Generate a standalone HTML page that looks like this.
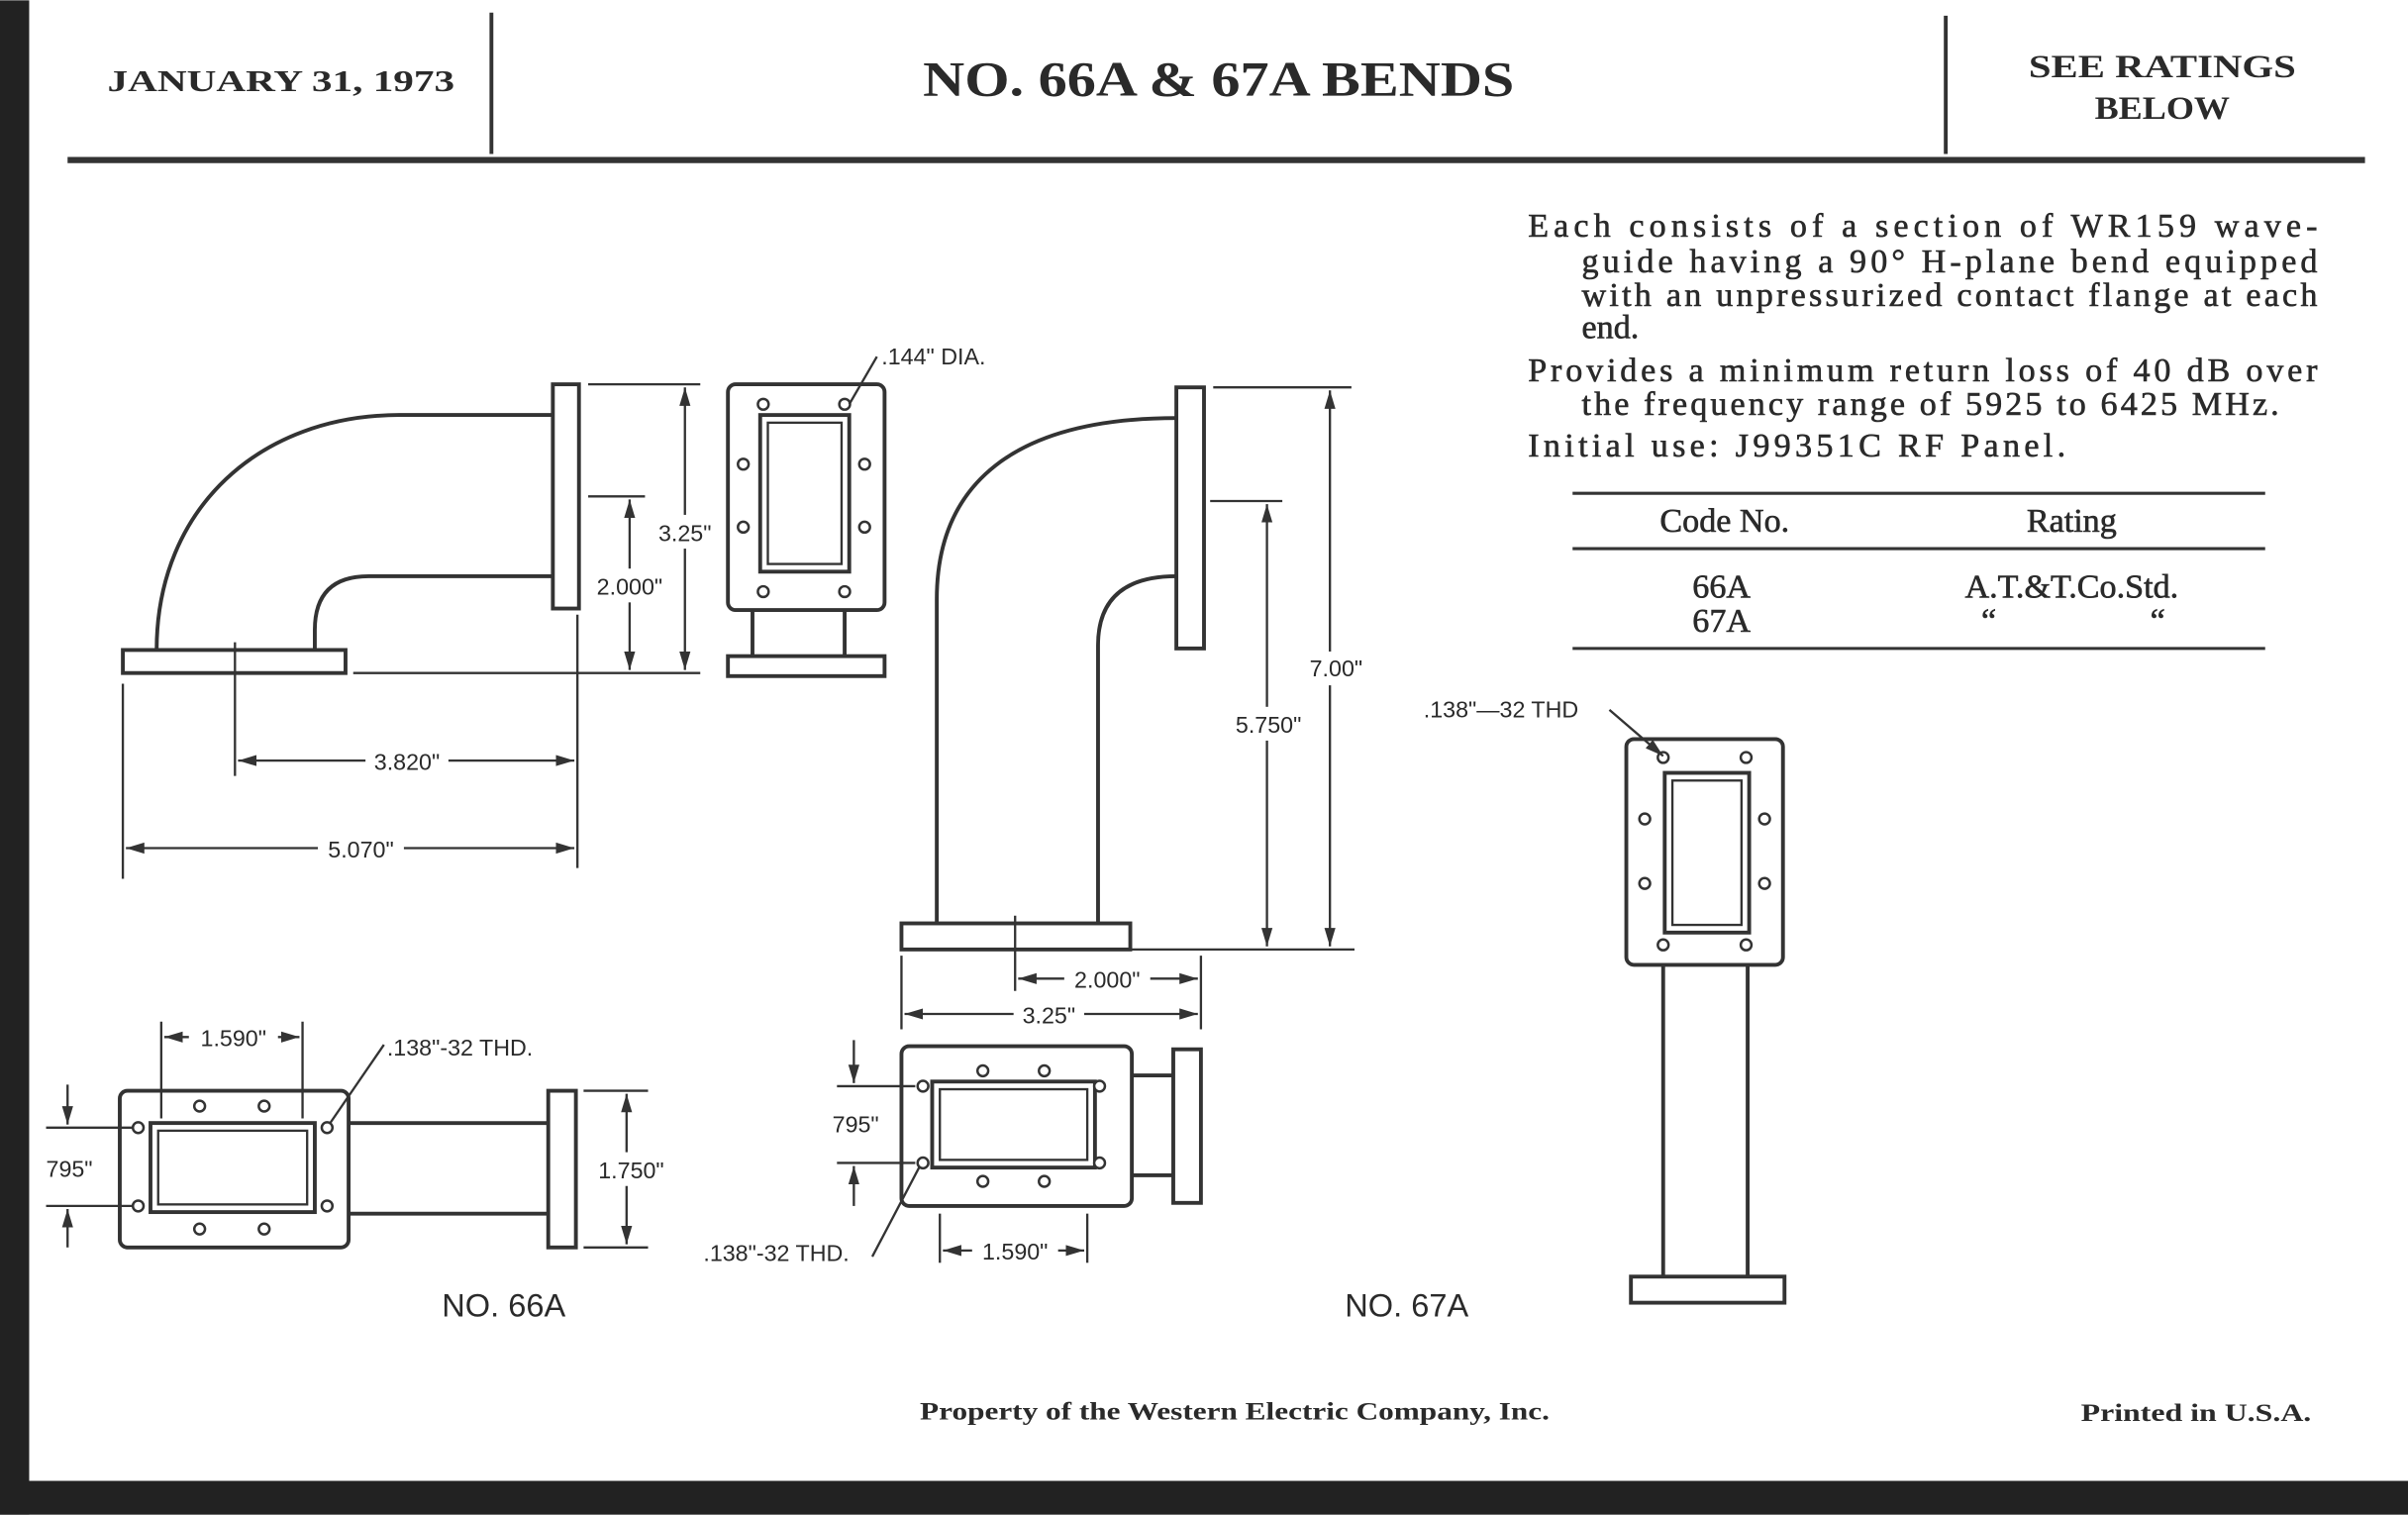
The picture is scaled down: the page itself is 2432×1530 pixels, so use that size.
<!DOCTYPE html>
<html><head><meta charset="utf-8"><style>
html,body{margin:0;padding:0;background:#fff}
svg{display:block}
.s{font-family:"Liberation Serif",serif;fill:#2a2a2a}
.a{font-family:"Liberation Sans",sans-serif;fill:#2a2a2a}
</style></head><body>
<svg width="2432" height="1530" viewBox="0 0 1568 986" xmlns="http://www.w3.org/2000/svg">
<defs>
<marker id="ar" viewBox="0 0 10 10" refX="10" refY="5" markerWidth="8" markerHeight="8" orient="auto-start-reverse"><path d="M0,2 L10,5 L0,8 z" fill="#333"/></marker>
</defs>
<rect width="1568" height="986" fill="#fff"/>
<rect x="0" y="0" width="19" height="986" fill="#222"/>
<rect x="0" y="964" width="1568" height="22" fill="#222"/>
<g stroke="#333" fill="none">
<line x1="44" y1="104" x2="1540" y2="104" stroke-width="4"/>
<line x1="320" y1="8" x2="320" y2="100" stroke-width="2.5"/>
<line x1="1267" y1="10" x2="1267" y2="100" stroke-width="2.5"/>
</g>
<text class="s" x="70" y="59" font-size="20" font-weight="bold" textLength="226" lengthAdjust="spacingAndGlyphs">JANUARY 31, 1973</text>
<text class="s" x="601" y="62" font-size="32" font-weight="bold" textLength="385" lengthAdjust="spacingAndGlyphs">NO. 66A &amp; 67A BENDS</text>
<text class="s" x="1321" y="50" font-size="21" font-weight="bold" textLength="174" lengthAdjust="spacingAndGlyphs">SEE RATINGS</text>
<text class="s" x="1408" y="77" font-size="21" font-weight="bold" text-anchor="middle" textLength="88" lengthAdjust="spacingAndGlyphs">BELOW</text>

<g class="s" font-size="22" stroke="#2a2a2a" stroke-width="0.4">
<text x="995" y="154" textLength="514" lengthAdjust="spacing">Each consists of a section of WR159 wave-</text>
<text x="1030" y="177" textLength="479" lengthAdjust="spacing">guide having a 90° H-plane bend equipped</text>
<text x="1030" y="199" textLength="479" lengthAdjust="spacing">with an unpressurized contact flange at each</text>
<text x="1030" y="220">end.</text>
<text x="995" y="248" textLength="514" lengthAdjust="spacing">Provides a minimum return loss of 40 dB over</text>
<text x="1030" y="270" textLength="454" lengthAdjust="spacing">the frequency range of 5925 to 6425 MHz.</text>
<text x="995" y="297" textLength="350" lengthAdjust="spacing">Initial use: J99351C RF Panel.</text>
<text x="1123" y="346" text-anchor="middle">Code No.</text>
<text x="1349" y="346" text-anchor="middle">Rating</text>
<text x="1121" y="389" text-anchor="middle">66A</text>
<text x="1121" y="411" text-anchor="middle">67A</text>
<text x="1349" y="389" text-anchor="middle">A.T.&amp;T.Co.Std.</text>
<text x="1295" y="411" text-anchor="middle">“</text>
<text x="1405" y="411" text-anchor="middle">“</text>
</g>
<g stroke="#333" stroke-width="2">
<line x1="1024" y1="321" x2="1475" y2="321"/>
<line x1="1024" y1="357" x2="1475" y2="357"/>
<line x1="1024" y1="422" x2="1475" y2="422"/>
</g>

<g stroke="#333" stroke-width="2.5" fill="none">
<rect x="80" y="423" width="145" height="15"/>
<rect x="360" y="250" width="17" height="146"/>
<path d="M102,423 C102,330 170,270 260,270 L360,270"/>
<path d="M205,423 L205,410 Q205,375 240,375 L360,375"/>
<rect x="474" y="250" width="102" height="147" rx="5"/>
<rect x="495" y="270" width="58" height="102"/>
<rect x="500" y="275" width="48" height="92" stroke-width="1.5"/>
<line x1="490" y1="397" x2="490" y2="427"/><line x1="550" y1="397" x2="550" y2="427"/>
<rect x="474" y="427" width="102" height="13"/>
<rect x="587" y="601" width="149" height="17"/>
<rect x="766" y="252" width="18" height="170"/>
<path d="M610,601 L610,390 C610,315 660,272 766,272"/>
<path d="M715,601 L715,420 Q715,375 766,375"/>
<rect x="587" y="681" width="150" height="104" rx="5"/>
<rect x="607" y="704" width="106" height="56"/>
<rect x="612" y="709" width="96" height="46" stroke-width="1.5"/>
<rect x="764" y="683" width="18" height="100"/>
<line x1="737" y1="700" x2="764" y2="700"/><line x1="737" y1="765" x2="764" y2="765"/>
<rect x="78" y="710" width="149" height="102" rx="5"/>
<rect x="98" y="731" width="107" height="58"/>
<rect x="103" y="736" width="97" height="48" stroke-width="1.5"/>
<line x1="227" y1="731" x2="357" y2="731"/><line x1="227" y1="790" x2="357" y2="790"/>
<rect x="357" y="710" width="18" height="102"/>
<rect x="1059" y="481" width="102" height="147" rx="5"/>
<rect x="1084" y="503" width="55" height="104"/>
<rect x="1089" y="508" width="45" height="94" stroke-width="1.5"/>
<line x1="1083" y1="628" x2="1083" y2="831"/><line x1="1138" y1="628" x2="1138" y2="831"/>
<rect x="1062" y="831" width="100" height="17"/>
</g>
<g stroke="#333" stroke-width="1.6" fill="#fff">
<circle cx="497" cy="263" r="3.5"/><circle cx="550" cy="263" r="3.5"/><circle cx="484" cy="302" r="3.5"/><circle cx="563" cy="302" r="3.5"/><circle cx="484" cy="343" r="3.5"/><circle cx="563" cy="343" r="3.5"/><circle cx="497" cy="385" r="3.5"/><circle cx="550" cy="385" r="3.5"/>
<circle cx="640" cy="697" r="3.5"/><circle cx="680" cy="697" r="3.5"/><circle cx="601" cy="707" r="3.5"/><circle cx="716" cy="707" r="3.5"/><circle cx="601" cy="757" r="3.5"/><circle cx="716" cy="757" r="3.5"/><circle cx="640" cy="769" r="3.5"/><circle cx="680" cy="769" r="3.5"/>
<circle cx="130" cy="720" r="3.5"/><circle cx="172" cy="720" r="3.5"/><circle cx="90" cy="734" r="3.5"/><circle cx="213" cy="734" r="3.5"/><circle cx="90" cy="785" r="3.5"/><circle cx="213" cy="785" r="3.5"/><circle cx="130" cy="800" r="3.5"/><circle cx="172" cy="800" r="3.5"/>
<circle cx="1083" cy="493" r="3.5"/><circle cx="1137" cy="493" r="3.5"/><circle cx="1071" cy="533" r="3.5"/><circle cx="1149" cy="533" r="3.5"/><circle cx="1071" cy="575" r="3.5"/><circle cx="1149" cy="575" r="3.5"/><circle cx="1083" cy="615" r="3.5"/><circle cx="1137" cy="615" r="3.5"/>
</g>

<g stroke="#333" stroke-width="1.5" fill="none">
<line x1="383" y1="250" x2="456" y2="250"/>
<line x1="383" y1="323" x2="420" y2="323"/>
<line x1="230" y1="438" x2="456" y2="438"/>
<line x1="446" y1="252" x2="446" y2="436" marker-start="url(#ar)" marker-end="url(#ar)"/>
<line x1="410" y1="325" x2="410" y2="436" marker-start="url(#ar)" marker-end="url(#ar)"/>
<line x1="153" y1="418" x2="153" y2="505"/>
<line x1="80" y1="445" x2="80" y2="572"/>
<line x1="376" y1="400" x2="376" y2="565"/>
<line x1="155" y1="495" x2="374" y2="495" marker-start="url(#ar)" marker-end="url(#ar)"/>
<line x1="82" y1="552" x2="374" y2="552" marker-start="url(#ar)" marker-end="url(#ar)"/>
<path d="M553,263 L571,232"/>
<line x1="790" y1="252" x2="880" y2="252"/>
<line x1="788" y1="326" x2="835" y2="326"/>
<line x1="720" y1="618" x2="882" y2="618"/>
<line x1="866" y1="254" x2="866" y2="616" marker-start="url(#ar)" marker-end="url(#ar)"/>
<line x1="825" y1="328" x2="825" y2="616" marker-start="url(#ar)" marker-end="url(#ar)"/>
<line x1="661" y1="596" x2="661" y2="645"/>
<line x1="587" y1="622" x2="587" y2="670"/>
<line x1="782" y1="622" x2="782" y2="670"/>
<line x1="663" y1="637" x2="780" y2="637" marker-start="url(#ar)" marker-end="url(#ar)"/>
<line x1="589" y1="660" x2="780" y2="660" marker-start="url(#ar)" marker-end="url(#ar)"/>
<line x1="545" y1="707" x2="596" y2="707"/>
<line x1="545" y1="757" x2="596" y2="757"/>
<line x1="556" y1="677" x2="556" y2="705" marker-end="url(#ar)"/>
<line x1="556" y1="785" x2="556" y2="759" marker-end="url(#ar)"/>
<line x1="612" y1="790" x2="612" y2="822"/>
<line x1="708" y1="790" x2="708" y2="822"/>
<line x1="614" y1="814" x2="706" y2="814" marker-start="url(#ar)" marker-end="url(#ar)"/>
<path d="M599,759 L568,818"/>
<line x1="105" y1="665" x2="105" y2="728"/>
<line x1="197" y1="665" x2="197" y2="728"/>
<line x1="107" y1="675" x2="195" y2="675" marker-start="url(#ar)" marker-end="url(#ar)"/>
<path d="M215,731 L250,680"/>
<line x1="30" y1="734" x2="86" y2="734"/>
<line x1="30" y1="785" x2="86" y2="785"/>
<line x1="44" y1="706" x2="44" y2="732" marker-end="url(#ar)"/>
<line x1="44" y1="812" x2="44" y2="787" marker-end="url(#ar)"/>
<line x1="380" y1="710" x2="422" y2="710"/>
<line x1="380" y1="812" x2="422" y2="812"/>
<line x1="408" y1="712" x2="408" y2="810" marker-start="url(#ar)" marker-end="url(#ar)"/>
<path d="M1048,462 L1083,492" marker-end="url(#ar)"/>
</g>

<g class="a" font-size="15">
<rect x="424" y="335" width="44" height="22" fill="#fff"/>
<text x="446" y="352" text-anchor="middle">3.25"</text>
<rect x="386" y="370" width="48" height="22" fill="#fff"/>
<text x="410" y="387" text-anchor="middle">2.000"</text>
<rect x="238" y="485" width="54" height="20" fill="#fff"/>
<text x="265" y="501" text-anchor="middle">3.820"</text>
<rect x="207" y="542" width="56" height="20" fill="#fff"/>
<text x="235" y="558" text-anchor="middle">5.070"</text>
<text x="574" y="237">.144" DIA.</text>
<rect x="846" y="424" width="44" height="22" fill="#fff"/>
<text x="870" y="440" text-anchor="middle">7.00"</text>
<rect x="800" y="460" width="52" height="22" fill="#fff"/>
<text x="826" y="477" text-anchor="middle">5.750"</text>
<rect x="693" y="627" width="56" height="20" fill="#fff"/>
<text x="721" y="643" text-anchor="middle">2.000"</text>
<rect x="660" y="650" width="46" height="20" fill="#fff"/>
<text x="683" y="666" text-anchor="middle">3.25"</text>
<text x="542" y="737">795"</text>
<text x="458" y="821">.138"-32 THD.</text>
<rect x="633" y="804" width="56" height="20" fill="#fff"/>
<text x="661" y="820" text-anchor="middle">1.590"</text>
<rect x="123" y="665" width="58" height="20" fill="#fff"/>
<text x="152" y="681" text-anchor="middle">1.590"</text>
<text x="252" y="687">.138"-32 THD.</text>
<text x="30" y="766">795"</text>
<rect x="386" y="750" width="48" height="22" fill="#fff"/>
<text x="411" y="767" text-anchor="middle">1.750"</text>
<text x="927" y="467">.138"—32 THD</text>
<text x="328" y="857" font-size="21" text-anchor="middle">NO. 66A</text>
<text x="916" y="857" font-size="21" text-anchor="middle">NO. 67A</text>
</g>
<text class="s" x="599" y="924" font-size="16" font-weight="bold" textLength="410" lengthAdjust="spacingAndGlyphs">Property of the Western Electric Company, Inc.</text>
<text class="s" x="1355" y="925" font-size="16" font-weight="bold" textLength="150" lengthAdjust="spacingAndGlyphs">Printed in U.S.A.</text>
</svg>
</body></html>
